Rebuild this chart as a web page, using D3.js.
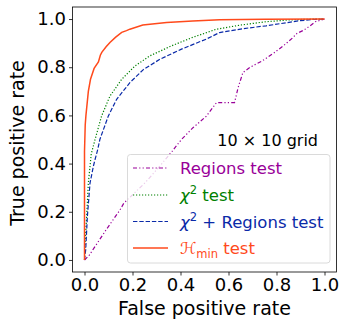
<!DOCTYPE html>
<html><head><meta charset="utf-8">
<script src="https://cdn.jsdelivr.net/npm/d3@7"></script>
<style>body{margin:0;background:#fff}svg{display:block}text{font-family:"DejaVu Sans",sans-serif}</style>
</head><body>
<script>
const xTicks = [0, 0.2, 0.4, 0.6, 0.8, 1.0];
const yTicks = [0, 0.2, 0.4, 0.6, 0.8, 1.0];
const regionsFPR = [0,0.02,0.04,0.09,0.148,0.164,0.252,0.31,0.365,0.404,0.452,0.508,0.55,0.625,0.64,0.66,0.69,0.74,0.79,0.83,0.866,0.885,0.914,0.94,0.962,1];
const regionsTPR = [0,0.02,0.05,0.125,0.208,0.236,0.32,0.385,0.451,0.5,0.549,0.597,0.653,0.653,0.715,0.778,0.8,0.826,0.86,0.89,0.921,0.94,0.954,0.972,0.989,1];
const chiFPR = [0,0.003,0.009,0.016,0.028,0.044,0.071,0.106,0.155,0.21,0.272,0.363,0.451,0.55,0.65,0.757,0.85,0.92,1];
const chiTPR = [0,0.08,0.18,0.319,0.44,0.5,0.597,0.68,0.75,0.805,0.847,0.889,0.924,0.958,0.975,0.989,0.996,0.999,1];
const bothFPR = [0,0.002,0.005,0.012,0.023,0.037,0.044,0.055,0.064,0.099,0.134,0.189,0.245,0.314,0.404,0.508,0.563,0.66,0.757,0.896,0.95,1];
const bothTPR = [0,0.02,0.042,0.18,0.319,0.389,0.417,0.458,0.5,0.597,0.667,0.736,0.79,0.833,0.875,0.917,0.944,0.96,0.972,0.993,0.998,1];
const hminFPR = [0,0,0.003,0.006,0.016,0.025,0.04,0.058,0.066,0.072,0.09,0.106,0.13,0.155,0.175,0.189,0.243,0.342,0.451,0.563,0.75,1];
const hminTPR = [0,0.45,0.56,0.6,0.7,0.75,0.795,0.822,0.85,0.862,0.885,0.903,0.925,0.945,0.952,0.958,0.975,0.986,0.992,0.997,0.999,1];
const seriesNames = ["Regions test", "χ2 test", "χ2 + Regions test", "Hmin test"];
const seriesColors = ["#990099", "#008000", "#0a2aa8", "#ff4a1c"];

const W = 342, H = 322;
const x = d3.scaleLinear().domain([-0.05, 1.05]).range([72.5, 336.5]);
const y = d3.scaleLinear().domain([-0.05, 1.05]).range([272, 7]);
const svg = d3.select("body").append("svg").attr("width", W).attr("height", H);

svg.append("defs").append("clipPath").attr("id","c").append("rect")
  .attr("x",72.5).attr("y",7).attr("width",264).attr("height",265);

const line = d3.line().x(d=>x(d[0])).y(d=>y(d[1]));
const dashes = ["4,2.2,1.2,2.2,1.2,2.2", "1.2,1.8", "4.4,1.9", null];
const widths = [1.2, 1.2, 1.2, 1.5];
const data = [
  d3.zip(regionsFPR, regionsTPR),
  d3.zip(chiFPR, chiTPR),
  d3.zip(bothFPR, bothTPR),
  d3.zip(hminFPR, hminTPR)
];
const g = svg.append("g").attr("clip-path","url(#c)");
data.forEach((d,i)=>{
  g.append("path").attr("d", line(d)).attr("fill","none")
   .attr("stroke", seriesColors[i]).attr("stroke-width", widths[i])
   .attr("stroke-dasharray", dashes[i]);
});

const xa = svg.append("g").attr("transform","translate(0,272)")
  .call(d3.axisBottom(x).tickValues(xTicks).tickFormat(d3.format(".1f")).tickSize(3.5).tickPadding(3));
const ya = svg.append("g").attr("transform","translate(72.5,0)")
  .call(d3.axisLeft(y).tickValues(yTicks).tickFormat(d3.format(".1f")).tickSize(3.5).tickPadding(3));
[xa, ya].forEach(a=>{
  a.select(".domain").remove();
  a.selectAll("text").attr("font-size", 18).attr("fill","#000").style("font-family","DejaVu Sans");
  a.selectAll("line").attr("stroke","#000").attr("stroke-width",0.8);
});
svg.append("rect").attr("x",72.5).attr("y",7).attr("width",264).attr("height",265)
  .attr("fill","none").attr("stroke","#000").attr("stroke-width",0.8);

svg.append("text").attr("x", (72.5+336.5)/2).attr("y", 315).attr("text-anchor","middle")
  .attr("font-size", 19).text("False positive rate");
svg.append("text").attr("transform", `translate(24,143) rotate(-90)`).attr("text-anchor","middle")
  .attr("font-size", 19).text("True positive rate");

svg.append("text").attr("x", 318).attr("y", 146).attr("text-anchor","end").attr("font-size", 16)
  .text("10 × 10 grid");

const lg = svg.append("g");
lg.append("rect").attr("x",127.5).attr("y",154.5).attr("width",202.5).attr("height",108.5)
  .attr("rx",3).attr("fill","#fff").attr("fill-opacity",0.8).attr("stroke","#d0d0d0").attr("stroke-width",0.8);
const rowY = [168, 195, 221.5, 248];
seriesNames.forEach((name,i)=>{
  lg.append("line").attr("x1",133).attr("x2",168).attr("y1",rowY[i]).attr("y2",rowY[i])
    .attr("stroke", seriesColors[i]).attr("stroke-width", widths[i]).attr("stroke-dasharray", dashes[i]);
  const t = lg.append("text").attr("x",180).attr("y",rowY[i]+6).attr("font-size",16.5).attr("fill",seriesColors[i]);
  if (i === 0) t.text(name);
  else if (i === 1 || i === 2) {
    t.append("tspan").attr("font-style","italic").text("χ");
    t.append("tspan").attr("font-size",11.5).attr("dy",-7).text("2");
    t.append("tspan").attr("dy",7).text(i===1 ? " test" : " + Regions test");
  } else {
    t.append("tspan").attr("font-style","italic").text("ℋ");
    t.append("tspan").attr("font-size",11.5).attr("dy",3.5).text("min");
    t.append("tspan").attr("dy",-3.5).text(" test");
  }
});
</script>
</body></html>
